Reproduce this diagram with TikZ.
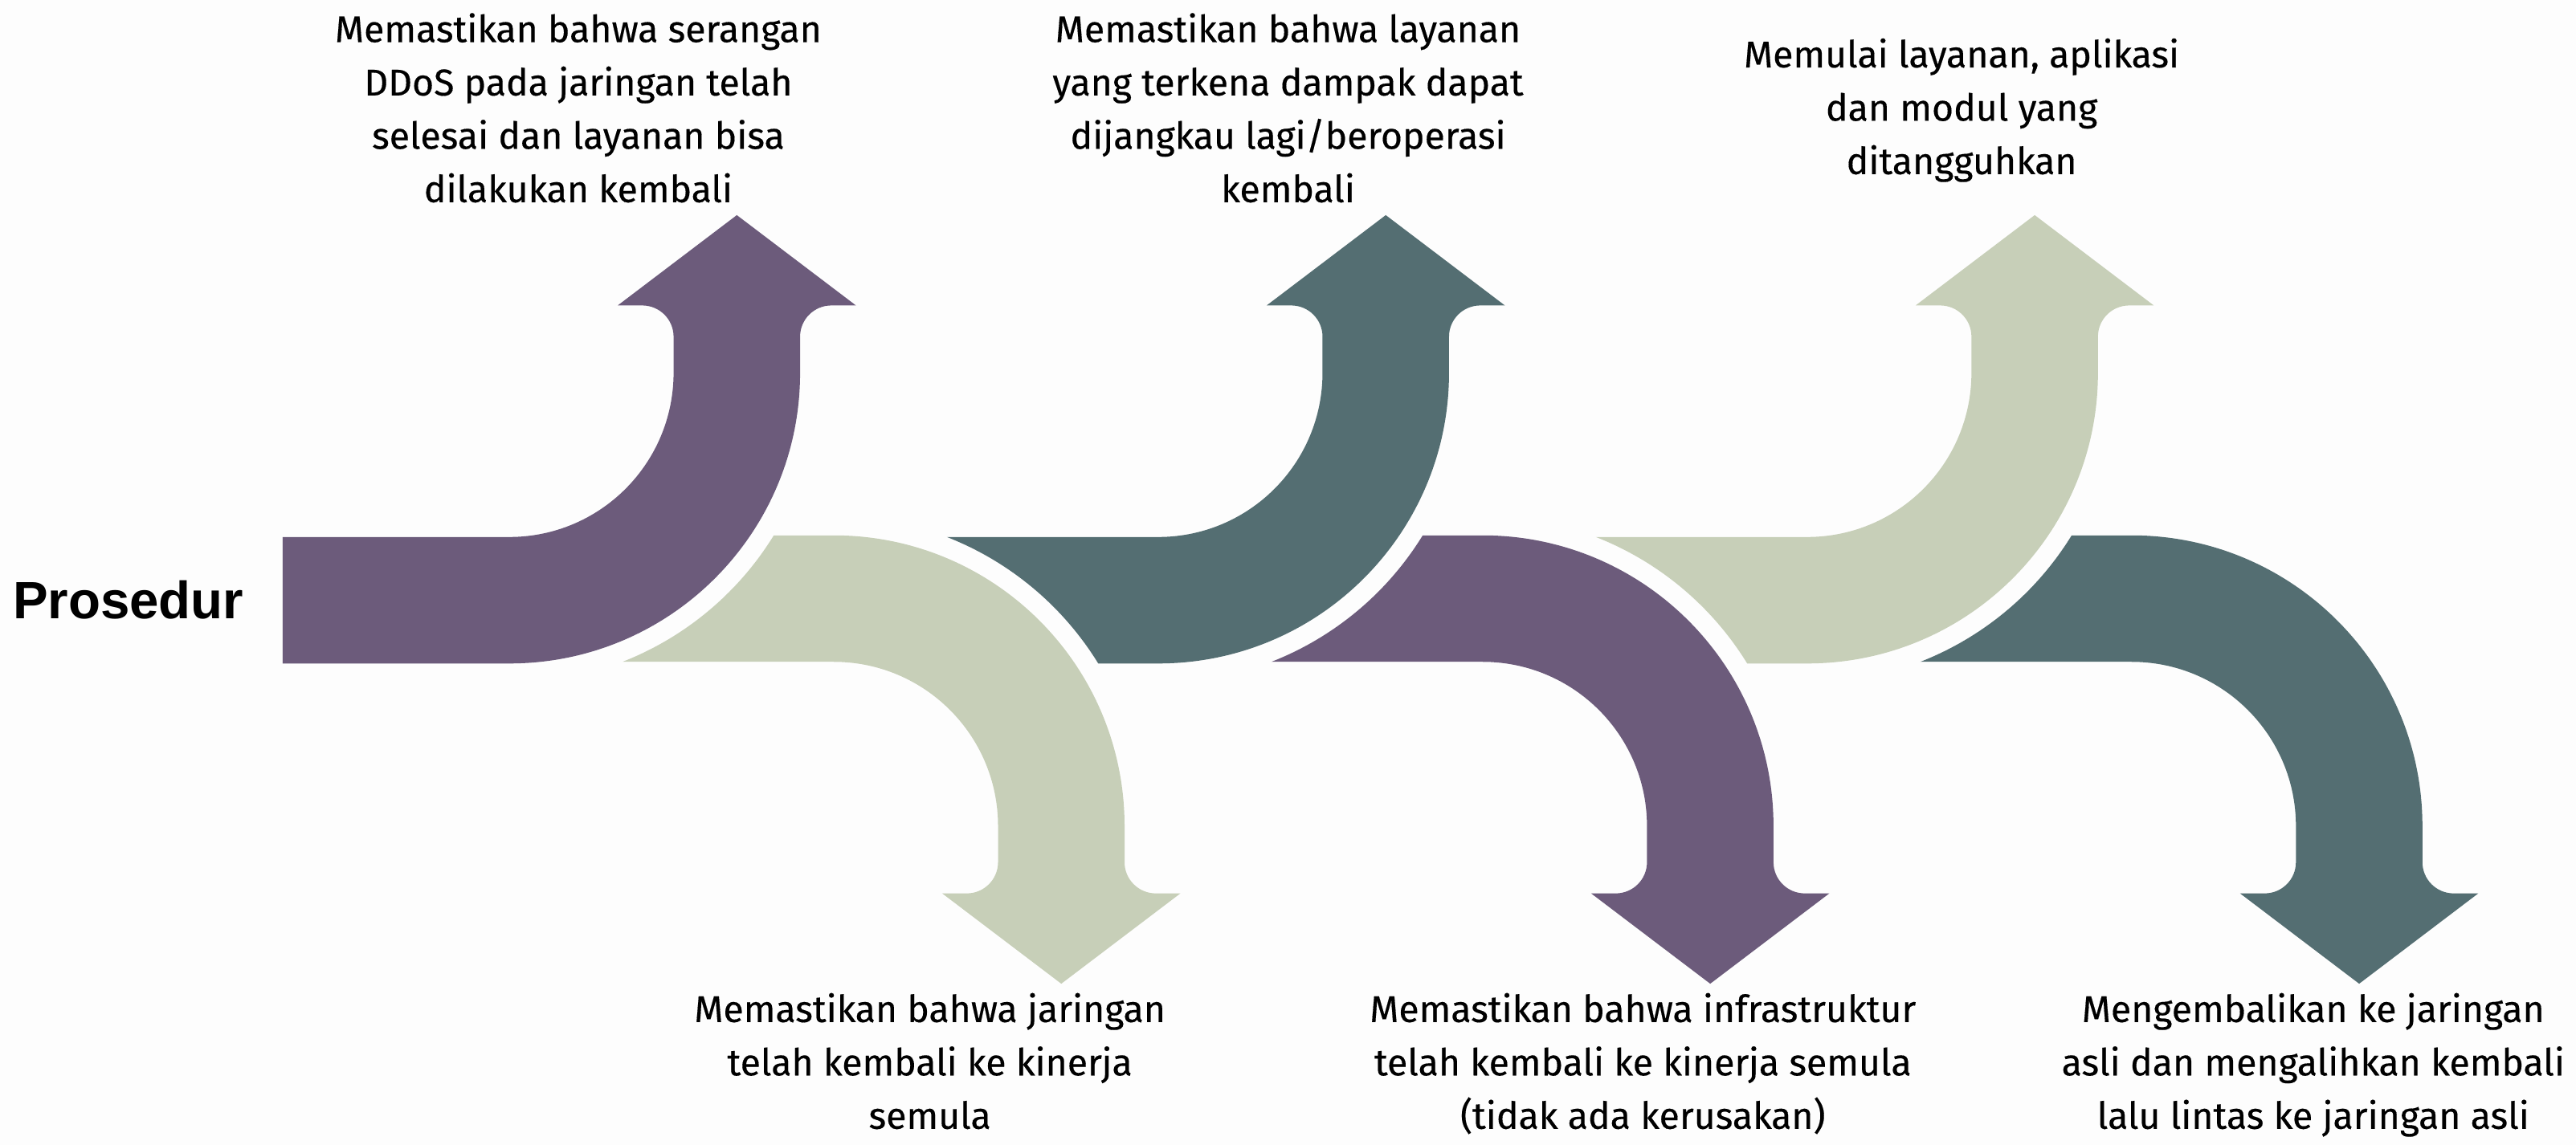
\documentclass[tikz,border=0pt]{standalone}
\usepackage{fontspec}
\setmainfont{Fira Sans}[FakeBold=0.3]
\newfontfamily\prosfont{Liberation Sans}
\definecolor{cpurple}{HTML}{6C5B7B}
\definecolor{cgreen}{HTML}{C7CFB8}
\definecolor{cteal}{HTML}{546E72}
\definecolor{bgc}{HTML}{FDFDFD}
\begin{document}
\begin{tikzpicture}[x=0.02cm,y=0.02cm,
  lbl/.style={anchor=north,inner sep=0pt,align=center,font=\fontsize{12.9}{18.49}\selectfont},
  ]
\fill[bgc] (0,0) rectangle (1568,697);
\useasboundingbox (0,0) rectangle (1568,697);
% head + shaft part common to all arrows (local coords, origin at arc centre)
\def\headpart{(0,-100) arc[start angle=-90,end angle=0,radius=100] -- (100,22)
  arc[start angle=0,end angle=90,radius=19] -- (66,41) -- (138.5,96) -- (211,41) -- (196,41)
  arc[start angle=90,end angle=180,radius=19] -- (177,0)
  arc[start angle=0,end angle=-90,radius=177]}
% first arrow (straight tail)
\begin{scope}[shift={(310,470)}]
  \fill[cpurple] (-138,-100) -- \headpart -- (-138,-177) -- cycle;
\end{scope}
% following arrows (tail cut along previous arrow)
\foreach \cx/\cy/\ys/\col in {507.5/194/-1/cgreen, 705/470/1/cteal, 902.5/194/-1/cpurple, 1100/470/1/cgreen, 1297.5/194/-1/cteal}{
  \begin{scope}[shift={(\cx,\cy)},yscale=\ys]
    \fill[\col] (-128.62,-100) -- \headpart -- (-36.5,-177)
      arc[start angle={asin(99/189)},end angle={asin(176/189)},radius=189] -- cycle;
  \end{scope}
}
\node[anchor=base west,inner sep=0pt,font=\prosfont\bfseries\fontsize{18.2}{20}\selectfont] (pros) at (7.5,320.2) {Prosedur};
\node[lbl] (t1) at (352,694.45) {\strut Memastikan bahwa serangan\\DDoS pada jaringan telah\\selesai dan layanan bisa\\dilakukan kembali};
\node[lbl] (t2) at (784,694.45) {\strut Memastikan bahwa layanan\\yang terkena dampak dapat\\dijangkau lagi/beroperasi\\kembali};
\node[lbl] (t3) at (1194,679.05) {\strut Memulai layanan, aplikasi\\dan modul yang\\ditangguhkan};
\node[lbl] (b1) at (566,97.75) {\strut Memastikan bahwa jaringan\\telah kembali ke kinerja\\semula};
\node[lbl] (b2) at (1000,97.75) {\strut Memastikan bahwa infrastruktur\\telah kembali ke kinerja semula\\(tidak ada kerusakan)};
\node[lbl] (b3) at (1408,97.75) {\strut Mengembalikan ke jaringan\\asli dan mengalihkan kembali\\lalu lintas ke jaringan asli};
\end{tikzpicture}
\end{document}
